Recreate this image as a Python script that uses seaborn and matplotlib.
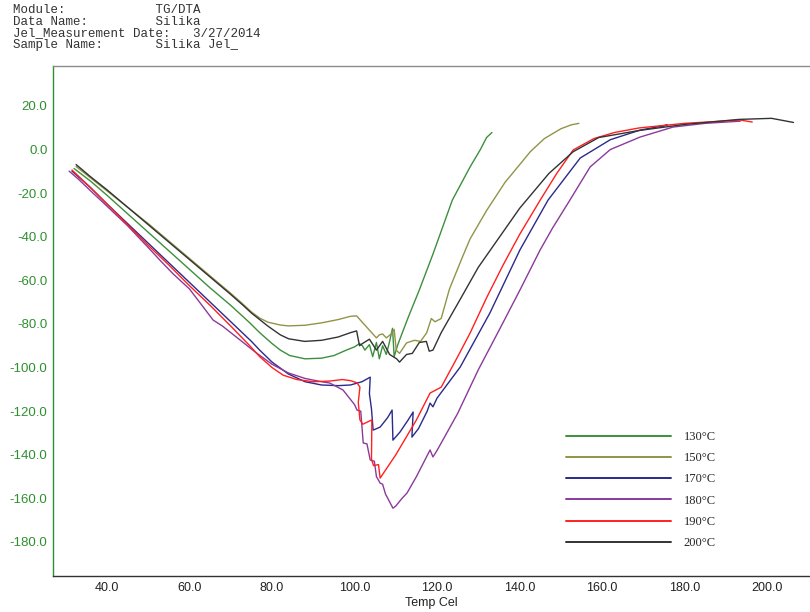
import numpy as np
import pandas as pd
import matplotlib
matplotlib.use("Agg")
import matplotlib.pyplot as plt
from matplotlib.lines import Line2D
import seaborn as sns

# ---------------- data ----------------
series_names = ["130°C", "150°C", "170°C", "180°C", "190°C", "200°C"]
series_colors = ["#3c8f3c", "#939348", "#2a2a8c", "#8b3a9b", "#ff2020", "#333333"]

t130 = [32.0, 36, 40, 45, 50, 55, 60, 65, 70, 74.6, 77, 80, 82, 84.3, 88, 92, 95, 98, 100,
        101.2, 101.9, 102.5, 103.6, 104.4, 105.3, 106, 106.8, 107.7, 108.5, 109.2, 109.6,
        110.4, 110.9, 113, 115.7, 119, 123.7, 128, 130.5, 132, 133.3]
v130 = [-8.7, -14.5, -21, -29.5, -38, -46.5, -55, -63.5, -71.5, -79.5, -84, -89, -92, -94.5,
        -96, -95.7, -94.5, -92, -90.5, -89, -90, -92, -89.5, -95, -88.5, -96, -90, -94, -88,
        -82, -95, -90, -87.4, -77, -64.4, -48, -23.2, -8, 0, 5.5, 7.8]

t150 = [32.5, 36, 40, 45, 50, 55, 60, 65, 70, 73, 75, 77, 79, 82, 84, 88, 92, 96, 99, 100.5,
        102, 105.3, 106, 106.8, 107.7, 108.9, 109.6, 110.1, 110.9, 112.6, 114.5, 116, 117.5,
        118.6, 119.5, 121, 123, 126, 128, 132, 136.5, 140, 142.6, 146, 150, 152.5, 154.4]
v150 = [-7.8, -13, -19, -26.5, -34, -42, -50, -58, -66, -71, -74.5, -77.3, -79.2, -80.5,
        -80.9, -80.6, -79.5, -78, -76.5, -76.3, -79.5, -86.4, -85, -84.6, -86.4, -84.6, -82.5,
        -92, -93.5, -88.7, -87.5, -88, -84, -77.5, -79, -77.5, -64, -50, -41, -28, -15, -7,
        -1, 5, 9.5, 11.3, 12]

t170 = [31.5, 36, 40, 45, 50, 55, 60, 65, 70, 75, 77, 80, 84, 88, 92, 96, 99, 101.8, 103.8,
        103.6, 104.1, 104.5, 106.2, 108, 109.1, 109.3, 111, 113, 114.2, 113.9, 115.5, 117.6,
        118.3, 119, 120, 125.6, 132.8, 140.1, 146.9, 154.7, 162, 169.2, 175.8, 174]
v170 = [-9.9, -17.5, -25, -34, -43, -52, -61, -70, -79, -88, -92, -97.5, -103, -106.5, -108,
        -108.3, -108, -106.5, -104.4, -112, -119, -128.7, -127.3, -123, -119.5, -133.3,
        -129.6, -124, -120.4, -131.9, -128, -120, -116.3, -118, -114, -99.8, -75, -46,
        -23.2, -3.9, 4.5, 8.9, 11.2, 10.6]

t180 = [30.8, 33, 36.6, 40, 45, 50, 52.8, 56, 60, 63.3, 65.7, 68, 72, 76, 80, 84, 88, 92,
        94, 97.2, 100, 100.6, 101.5, 102.1, 103, 103.8, 104.8, 105.3, 106.2, 106.8, 107.5,
        109.3, 110, 111.5, 112.7, 115, 118.3, 119, 120, 125, 130, 135, 140.1, 145, 148,
        152.2, 157.1, 162, 169.2, 177.2, 185, 193.5]
v180 = [-9.9, -13.5, -20, -26, -35, -45, -50.7, -57, -64, -72.2, -78.2, -81, -87, -93,
        -98.5, -102.5, -105, -106.5, -107.1, -110.3, -117, -119.5, -120, -134.6, -135,
        -142.4, -143, -150, -153, -153.5, -158, -164.5, -163.5, -160, -157.6, -150, -137.8,
        -141, -138, -121, -101, -83, -64.4, -46, -36, -23.2, -8, 0, 5.7, 10.3, 12, 13]

t190 = [31.5, 36, 40, 45, 50, 55, 60, 65, 70, 74.6, 77, 80, 82.7, 86, 90, 94, 97, 99,
        100.6, 101.3, 100.9, 101.3, 102, 104.2, 104.1, 104.6, 105.8, 106.2, 110, 115, 118.3,
        119.5, 121, 125, 128, 132, 136, 140, 145, 149, 153, 158, 163, 169, 180, 193.5, 196.4]
v190 = [-9.4, -17.5, -25, -34.5, -44, -53, -62.5, -71.5, -81, -90, -95, -100, -103.5, -105.5,
        -106.5, -106.2, -105.5, -106, -107, -109, -116, -124, -126, -124, -142, -145,
        -144.5, -150.7, -140, -124, -111.7, -110.5, -109, -95, -84.2, -68, -53, -39, -23.2,
        -11, -0.2, 5, 7.8, 9.9, 12, 13.5, 12.6]

t200 = [32.5, 36, 40, 45, 50, 55, 60, 65, 70, 73, 75, 77, 79, 82, 84, 87.9, 92, 96, 99,
        100.5, 101.2, 101.9, 103.6, 105.3, 106.8, 108.5, 110.2, 110.9, 112.6, 114, 115.7,
        117.4, 118.1, 119, 121, 125.4, 130, 135, 140, 147.1, 153, 159.2, 168.9, 180, 193.1,
        201.1, 206.4]
v200 = [-6.9, -12.5, -18.5, -26.5, -34.5, -42.5, -50.5, -58.5, -66.5, -71.5, -75, -78,
        -81, -85, -86.8, -88, -87.5, -86, -84, -83.2, -90, -89, -87, -92, -88, -94, -96,
        -97.5, -94, -93.5, -88.5, -88, -92.5, -92, -84, -69.4, -54, -40.5, -27, -11, -1,
        5.5, 8.7, 11.5, 13.8, 14.3, 12.4]

x_ticks = [40, 60, 80, 100, 120, 140, 160, 180, 200]
y_ticks = [20, 0, -20, -40, -60, -80, -100, -120, -140, -160, -180]
header_lines = ["Module:            TG/DTA",
                "Data Name:         Silika",
                "Jel_Measurement Date:   3/27/2014",
                "Sample Name:       Silika Jel_"]
x_label = "Temp Cel"

# ---------------- build table ----------------
all_t = [t130, t150, t170, t180, t190, t200]
all_v = [v130, v150, v170, v180, v190, v200]
frames = []
for name, t, v in zip(series_names, all_t, all_v):
    frames.append(pd.DataFrame({"Temp": t, "Value": v, "Series": name}))
df = pd.concat(frames, ignore_index=True)

# ---------------- plot ----------------
sns.set_style("white")
plt.rcParams["font.family"] = ["Liberation Sans", "DejaVu Sans"]

fig = plt.figure(figsize=(8.1, 6.12), dpi=100)
ax = fig.add_axes([53 / 810, 1 - 576 / 612, (810 - 53) / 810, (576 - 66) / 612])

palette = dict(zip(series_names, series_colors))
sns.lineplot(data=df, x="Temp", y="Value", hue="Series", palette=palette,
             hue_order=series_names, sort=False, estimator=None, units="Series",
             linewidth=1.0, legend=False, ax=ax)

ax.set_xlim(26.9, 210.4)
ax.set_ylim(-195.6, 38.3)
ax.set_xticks(x_ticks)
ax.set_xticklabels([f"{x:.1f}" for x in x_ticks], fontsize=9, color="#222222")
ax.set_yticks(y_ticks)
ax.set_yticklabels([f"{y:.1f}" for y in y_ticks], fontsize=9.5, color="#2f8f2f")
ax.tick_params(axis="x", direction="in", length=7, width=0.9, color="#333333", pad=4)
ax.tick_params(axis="y", direction="in", length=7, width=0.9, color="#2f8f2f", pad=4)

ax.set_xlabel(x_label, fontsize=9, color="#222222", labelpad=2.5)
ax.set_ylabel("")

ax.spines["right"].set_visible(False)
ax.spines["left"].set_color("#2f8f2f")
ax.spines["left"].set_linewidth(1.0)
ax.spines["bottom"].set_color("#333333")
ax.spines["bottom"].set_linewidth(1.0)
ax.spines["top"].set_color("#8c8c8c")
ax.spines["top"].set_linewidth(1.0)

handles = [Line2D([0], [0], color=c, lw=1.4) for c in series_colors]
leg = ax.legend(handles, series_names, loc="upper left",
                bbox_to_anchor=(566 / 810, 1 - 431 / 612), bbox_transform=fig.transFigure,
                frameon=False, borderpad=0, borderaxespad=0, handlelength=8.4,
                handletextpad=1.0, labelspacing=0.74,
                prop={"family": "Liberation Serif", "size": 9})

for i, line in enumerate(header_lines):
    fig.text(13 / 810, 1 - (13 + i * 11.7) / 612, line, family="Liberation Mono",
             fontsize=9, color="#333333", va="baseline", ha="left")

fig.savefig("out.png", dpi=100)
